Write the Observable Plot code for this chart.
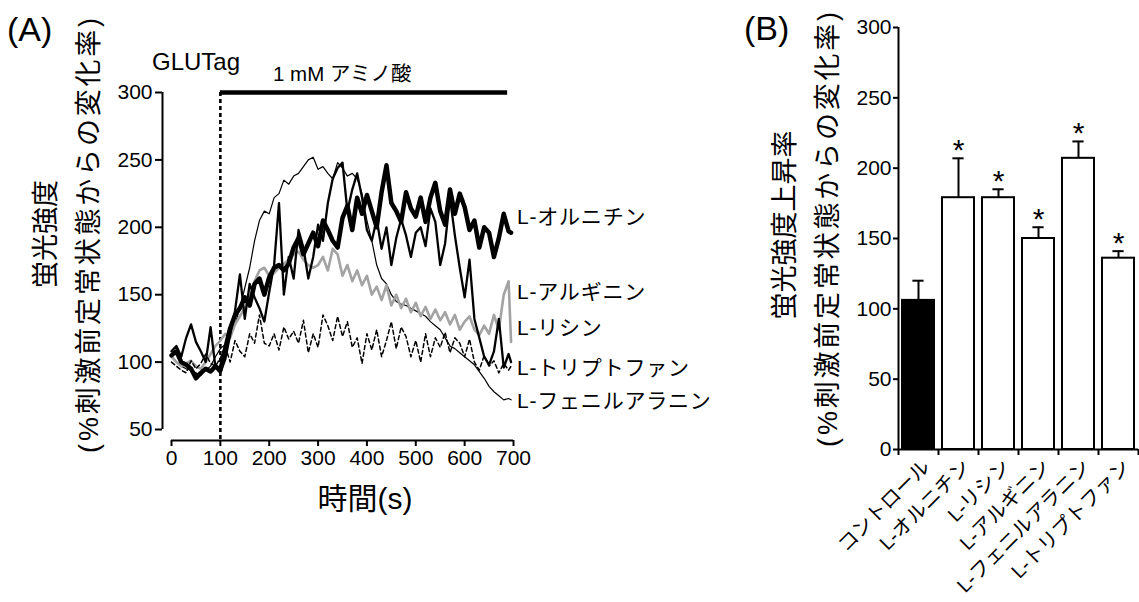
<!DOCTYPE html>
<html><head><meta charset="utf-8">
<script src="https://cdn.jsdelivr.net/npm/d3@7"></script>
<script src="https://cdn.jsdelivr.net/npm/@observablehq/plot@0.6"></script>
<style>
body{margin:0;background:#fff;}
#root{position:relative;width:1139px;height:602px;overflow:hidden;font-family:"Liberation Sans","Noto Sans CJK JP",sans-serif;color:#000;background:#fff}
#root svg{position:absolute;top:0}
.t{position:absolute;white-space:nowrap;line-height:1}
.c{transform:translate(-50%,-50%)}
.l{transform:translate(0,-50%)}
.r{transform:translate(-50%,-50%) rotate(-90deg)}
</style></head><body><div id="root"></div><script>
// ---------- Panel A data ----------
const times = [0,10,20,30,40,50,60,70,80,90,100,110,120,130,140,150,160,170,180,190,200,210,220,230,240,250,260,270,280,290,300,310,320,330,340,350,360,370,380,390,400,410,420,430,440,450,460,470,480,490,500,510,520,530,540,550,560,570,580,590,600,610,620,630,640,650,660,670,680,690,695];
const ornithine = [105,108,100,98,95,88,92,95,93,97,94,110,125,135,140,148,142,158,162,150,163,170,172,168,173,185,192,180,188,196,186,205,198,190,185,207,216,198,222,210,224,212,200,226,246,218,212,204,226,214,208,222,204,222,233,212,202,228,210,225,215,198,205,185,200,196,178,192,210,197,196];
const lysine = [108,112,104,118,128,115,108,100,126,96,92,102,120,138,165,132,158,148,140,130,152,172,218,150,178,162,198,185,162,178,202,190,218,236,244,248,212,228,240,222,198,190,206,184,200,172,192,206,194,178,196,200,186,214,204,172,188,222,194,170,148,176,132,118,104,98,108,132,96,106,100];
const arginine = [104,100,97,99,101,97,95,100,106,112,116,121,118,128,134,140,148,160,168,170,164,166,170,173,176,180,182,176,172,170,172,178,168,184,180,164,172,160,168,157,164,150,156,146,157,142,150,140,147,137,144,134,141,132,139,131,137,128,135,124,130,134,124,120,127,121,135,124,150,160,115];
const tryptophan = [100,97,94,92,101,95,99,106,99,97,103,112,100,116,108,104,121,114,135,114,112,121,109,126,117,123,114,131,107,121,111,135,127,116,134,119,130,111,118,99,121,109,124,104,116,130,110,126,119,104,116,100,121,104,118,111,122,107,118,114,104,117,100,94,105,97,101,92,99,94,97];
const phenylalanine = [105,100,97,95,94,92,90,94,97,104,110,113,118,128,140,155,170,190,205,212,210,222,225,235,232,238,240,245,250,252,243,245,240,236,248,244,238,240,236,225,205,190,172,162,158,150,145,143,142,140,138,136,134,130,127,124,118,112,110,107,104,101,98,93,88,82,78,75,72,73,72];
const seriesNames = ["L-オルニチン","L-アルギニン","L-リシン","L-トリプトファン","L-フェニルアラニン"];
const xTicksA = [0,100,200,300,400,500,600,700];
const yTicksA = [50,100,150,200,250,300];
const stimulus = [{start:100, end:688}];

// ---------- Panel B data ----------
const categories = ["コントロール","L-オルニチン","L-リシン","L-アルギニン","L-フェニルアラニン","L-トリプトファン"];
const barValues = [106,179,179,150,207,136];
const barErrors = [120,207,185,158,219,141];
const significant = [false,true,true,true,true,true];
const yTicksB = [0,50,100,150,200,250,300];

const FONT = '"Liberation Sans","Noto Sans CJK JP",sans-serif';
const rows = (vals) => times.map((t,i)=>({t, v: vals[i]}));

const plotA = Plot.plot({
  width: 740, height: 480,
  marginLeft: 162, marginTop: 92, marginBottom: 40, marginRight: 227,
  x: {domain: [0,700], range: [171,513]},
  y: {domain: [50,300], range: [429,92]},
  style: {fontFamily: FONT, color: "black", background: "transparent", overflow: "visible"},
  marks: [
    Plot.ruleX([0], {y1: d3.min(yTicksA), y2: d3.max(yTicksA), dx: -9, strokeWidth: 2}),
    Plot.ruleY([d3.min(yTicksA)], {x1: d3.min(xTicksA), x2: d3.max(xTicksA), dy: 11, strokeWidth: 2}),
    Plot.axisY({ticks: yTicksA, tickSize: 7, tickPadding: 3, fontSize: 21, strokeWidth: 2, label: null}),
    Plot.axisX({ticks: xTicksA, tickSize: 6, tickPadding: 4, fontSize: 21, strokeWidth: 2, label: null}),
    Plot.ruleX(stimulus, {x: "start", strokeDasharray: "4,3", strokeWidth: 2.6}),
    Plot.ruleY(stimulus, {x1: "start", x2: "end", y: () => d3.max(yTicksA), strokeWidth: 4.5}),
    Plot.line(rows(phenylalanine), {x: "t", y: "v", stroke: "black", strokeWidth: 1.2}),
    Plot.line(rows(arginine), {x: "t", y: "v", stroke: "#a3a3a3", strokeWidth: 2.6}),
    Plot.line(rows(tryptophan), {x: "t", y: "v", stroke: "black", strokeWidth: 1.5, strokeDasharray: "4,3"}),
    Plot.line(rows(lysine), {x: "t", y: "v", stroke: "black", strokeWidth: 2.3}),
    Plot.line(rows(ornithine), {x: "t", y: "v", stroke: "black", strokeWidth: 4.5})
  ]
});
plotA.style.left = "0px";

const barData = categories.map((c,i)=>({cat:c, i, value: barValues[i], err: barErrors[i], sig: significant[i], fill: i===0 ? "black" : "white"}));
const plotB = Plot.plot({
  width: 399, height: 602,
  marginLeft: 158, marginTop: 27, marginBottom: 153, marginRight: 1,
  x: {domain: [0, categories.length], range: [158,398]},
  y: {domain: [0,300], range: [449,27]},
  color: {type: "identity"},
  style: {fontFamily: FONT, color: "black", background: "transparent", overflow: "visible"},
  marks: [
    Plot.ruleX(barData, {x: d => d.i + 0.5, y1: "value", y2: "err", strokeWidth: 2}),
    Plot.ruleY(barData, {y: "err", x1: d => d.i + 0.36, x2: d => d.i + 0.64, strokeWidth: 2}),
    Plot.rectY(barData, {x1: d => d.i + 0.1, x2: d => d.i + 0.9, y1: 0, y2: "value", fill: "fill", stroke: "black", strokeWidth: 2}),
    Plot.ruleX([0], {strokeWidth: 2}),
    Plot.ruleY([0], {strokeWidth: 2}),
    Plot.axisY({ticks: yTicksB, tickSize: 5, tickPadding: 2, fontSize: 21, strokeWidth: 2, label: null}),
    Plot.axisX({ticks: d3.range(0, categories.length + 1), tickFormat: () => "", tickSize: 6, strokeWidth: 2, label: null}),
    Plot.text(barData, {x: d => d.i + 0.5, y: () => 0, text: "cat", rotate: -45, textAnchor: "end", dx: 8, dy: 14, fontSize: 20}),
    Plot.text(barData.filter(d => d.sig), {x: d => d.i + 0.5, y: "err", text: () => "*", dy: -8, fontSize: 30})
  ]
});
plotB.style.left = "740px";

const root = document.getElementById("root");
root.appendChild(plotA);
root.appendChild(plotB);

function label(text, x, y, size, cls, spacing){
  const d = document.createElement("div");
  d.className = "t " + cls;
  d.textContent = text;
  d.style.left = x + "px"; d.style.top = y + "px"; d.style.fontSize = size + "px";
  if (spacing) d.style.letterSpacing = spacing + "px";
  root.appendChild(d);
}
label("(A)", 7, 29, 34, "l");
label("(B)", 744, 28, 34, "l");
label("GLUTag", 152, 62, 24, "l");
label("1 mM アミノ酸", 273, 74, 20.5, "l");
label("蛍光強度", 46, 234, 27, "r");
label("(%刺激前定常状態からの変化率)", 89, 234, 27, "r", 2.8);
label("時間(s)", 365, 499, 30, "c");
const legendY = [216, 291, 327, 367, 400];
seriesNames.forEach((n,i)=>label(n, 517, legendY[i], 21, "l", 0.8));
label("蛍光強度上昇率", 785, 225, 27, "r");
label("(%刺激前定常状態からの変化率)", 828, 228, 27, "r", 2.8);
</script></body></html>
